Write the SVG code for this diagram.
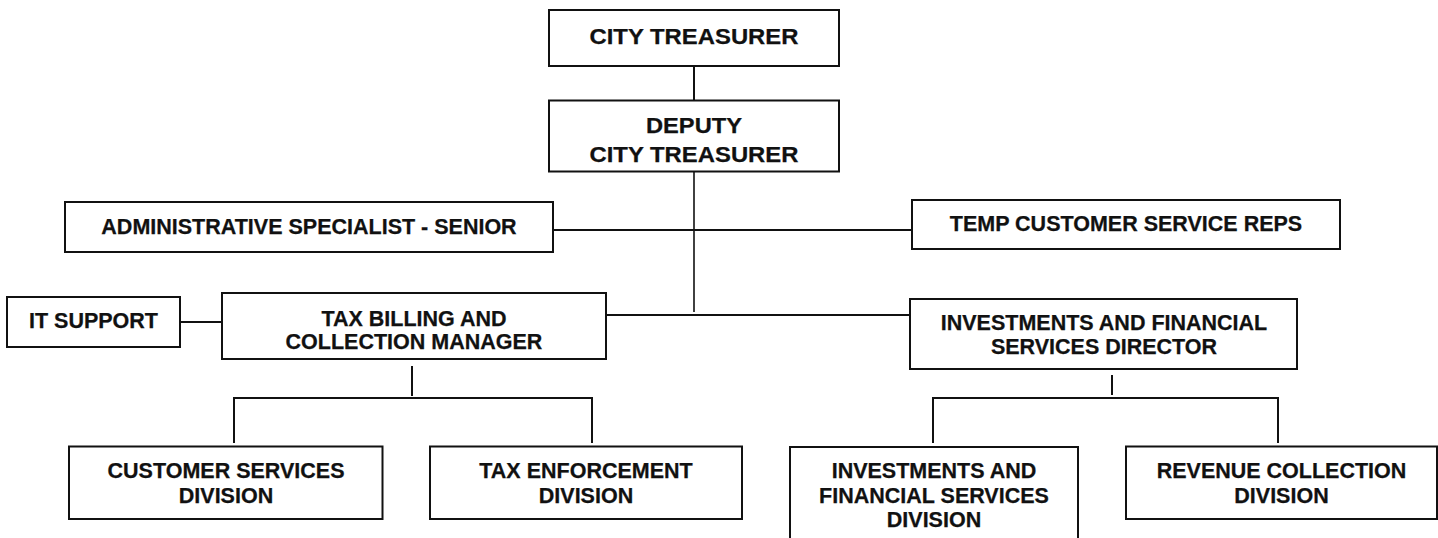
<svg xmlns="http://www.w3.org/2000/svg" width="1438" height="538" viewBox="0 0 1438 538">
<style>
rect.box{fill:#fff;stroke:#111;stroke-width:2}
.c{fill:none;stroke:#111;stroke-width:2}
text{font-family:"Liberation Sans",Arial,sans-serif;font-weight:bold;font-size:21.5px;fill:#111;stroke:#111;stroke-width:0.25;text-anchor:middle}
</style>
<rect width="1438" height="538" fill="#fff"/>
<g id="connectors">
<line class="c" x1="694" y1="66" x2="694" y2="100"/>
<line class="c" x1="694" y1="171.5" x2="694" y2="312" style="stroke-width:1.6"/>
<line class="c" x1="553" y1="230" x2="912" y2="230"/>
<line class="c" x1="180" y1="322" x2="222" y2="322"/>
<line class="c" x1="606" y1="315" x2="910" y2="315"/>
<line class="c" x1="412" y1="366" x2="412" y2="396"/>
<path class="c" d="M234,443 V398 H592 V443"/>
<line class="c" x1="1112" y1="375" x2="1112" y2="395"/>
<path class="c" d="M933,443 V398 H1278 V443"/>
</g>
<g id="city-treasurer">
<rect class="box" x="549" y="10" width="290" height="56"/>
<text x="694" y="44" textLength="209" lengthAdjust="spacingAndGlyphs">CITY TREASURER</text>
</g>
<g id="deputy-city-treasurer">
<rect class="box" x="549" y="100.5" width="290" height="71"/>
<text x="694" y="133" textLength="96" lengthAdjust="spacingAndGlyphs">DEPUTY</text>
<text x="694" y="161.5" textLength="209" lengthAdjust="spacingAndGlyphs">CITY TREASURER</text>
</g>
<g id="admin-specialist">
<rect class="box" x="65" y="202" width="488" height="50"/>
<text x="309" y="233.5">ADMINISTRATIVE SPECIALIST - SENIOR</text>
</g>
<g id="temp-reps">
<rect class="box" x="912" y="200" width="428" height="49"/>
<text x="1126" y="231">TEMP CUSTOMER SERVICE REPS</text>
</g>
<g id="it-support">
<rect class="box" x="7" y="297" width="173" height="50"/>
<text x="93.5" y="328">IT SUPPORT</text>
</g>
<g id="tax-billing">
<rect class="box" x="222" y="293" width="384" height="66"/>
<text x="414" y="325.5">TAX BILLING AND</text>
<text x="414" y="349">COLLECTION MANAGER</text>
</g>
<g id="investments-director">
<rect class="box" x="910" y="299" width="387" height="70"/>
<text x="1104" y="329.5">INVESTMENTS AND FINANCIAL</text>
<text x="1104" y="354">SERVICES DIRECTOR</text>
</g>
<g id="customer-services">
<rect class="box" x="69" y="446.5" width="313.5" height="72.5"/>
<text x="226" y="477.5">CUSTOMER SERVICES</text>
<text x="226" y="502.5">DIVISION</text>
</g>
<g id="tax-enforcement">
<rect class="box" x="430" y="446.5" width="312" height="72.5"/>
<text x="586" y="477.5">TAX ENFORCEMENT</text>
<text x="586" y="502.5">DIVISION</text>
</g>
<g id="investments-division">
<rect class="box" x="790" y="447" width="288" height="100"/>
<text x="934" y="478">INVESTMENTS AND</text>
<text x="934" y="502.5">FINANCIAL SERVICES</text>
<text x="934" y="527">DIVISION</text>
</g>
<g id="revenue-collection">
<rect class="box" x="1126" y="446.5" width="311" height="72.5"/>
<text x="1281.5" y="478">REVENUE COLLECTION</text>
<text x="1281.5" y="502.5">DIVISION</text>
</g>
</svg>
